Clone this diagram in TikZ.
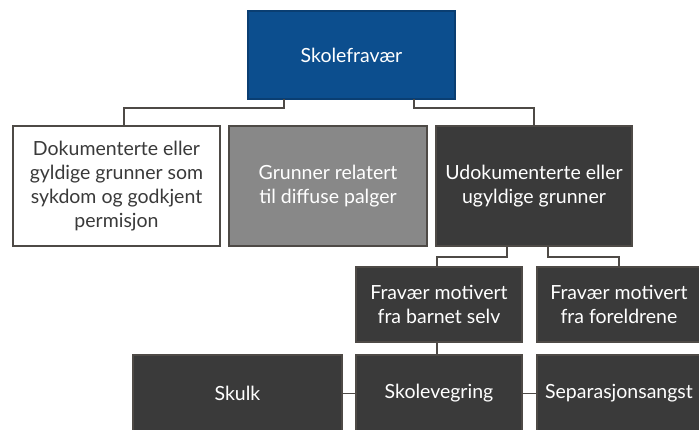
\documentclass[tikz,border=0pt]{standalone}
\usepackage{fontspec}
\setmainfont{Lato}
\usetikzlibrary{positioning}
\definecolor{fravblue}{RGB}{12,78,142}
\definecolor{midgray}{RGB}{136,136,136}
\definecolor{boxdark}{RGB}{58,58,58}
\definecolor{linegray}{RGB}{78,74,70}

\begin{document}
\begin{tikzpicture}[
  x=1pt, y=-1pt,
  box/.style={rectangle, draw=linegray, line width=1.2pt, inner sep=1pt, outer sep=0pt, align=center, font=\fontsize{19.5}{24}\selectfont},
  darkbox/.style={box, fill=boxdark, text=white},
  link/.style={draw=linegray, line width=1.3pt}
]
  \useasboundingbox (0,0) rectangle (699,430);
  % top level
  \node[box, fill=fravblue, draw=fravblue!80!black, text=white, minimum width=207pt, minimum height=88pt] (fravaer) at (351.5,55) {Skolefravær};
  % three kinds of reasons
  \node[box, fill=white, text=boxdark, minimum width=207pt, minimum height=120pt] (gyldig) at (116.5,186) {Dokumenterte eller\\gyldige grunner som\\sykdom og godkjent\\permisjon};
  \node[box, fill=midgray, text=white, minimum width=198pt, minimum height=120pt] (diffus) at (328,186) {Grunner relatert\\til diffuse palger};
  \node[darkbox, minimum width=196pt, minimum height=120pt] (ugyldig) at (534,186) {Udokumenterte eller\\ugyldige grunner};
  % motivation
  \node[darkbox, minimum width=166pt, minimum height=75pt] (barnet) at (439,304.5) {Fravær motivert\\fra barnet selv};
  \node[darkbox, minimum width=164pt, minimum height=75pt] (foreldre) at (619,304.5) {Fravær motivert\\fra foreldrene};
  % bottom row
  \node[darkbox, minimum width=209pt, minimum height=77pt] (skulk) at (237.5,393.5) {Skulk};
  \node[darkbox, minimum width=166pt, minimum height=77pt] (vegring) at (439,393.5) {Skolevegring};
  \node[darkbox, minimum width=164pt, minimum height=77pt] (separasjon) at (619,393.5) {Separasjonsangst};

  \draw[link] ([xshift=-67.5pt]fravaer.south) -- ++(0,9) -| ([xshift=7.5pt]gyldig.north);
  \draw[link] ([xshift=62.5pt]fravaer.south) -- ++(0,9) -| (ugyldig.north);
  \draw[link] ([xshift=-27pt]ugyldig.south) -- ++(0,11) -| ([xshift=-2pt]barnet.north);
  \draw[link] ([xshift=14pt]ugyldig.south) -- ++(0,11) -| (foreldre.north);
  \draw[link] ([xshift=-2pt]barnet.south) -- ([xshift=-2pt]vegring.north);
  \draw[link] (skulk.east) -- (vegring.west);
  \draw[link] (vegring.east) -- (separasjon.west);
\end{tikzpicture}
\end{document}
